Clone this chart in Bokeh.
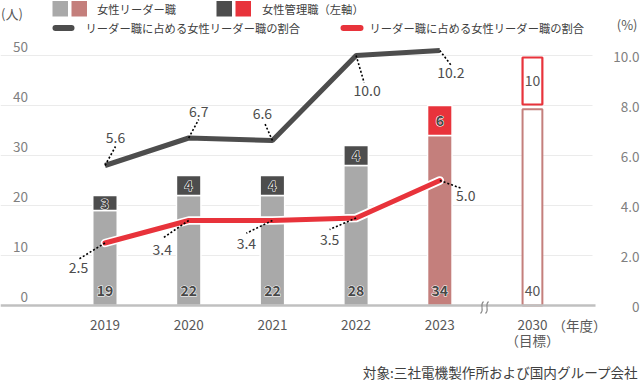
from bokeh.plotting import figure
from bokeh.models import Range1d
from bokeh.core.properties import value
from bokeh.embed import file_html
from bokeh.resources import INLINE

# ---------------- data ----------------
years = ["2019", "2020", "2021", "2022", "2023", "2030"]
women_leaders = [19, 22, 22, 28, 34, 40]      # persons (left axis)
women_managers = [3, 4, 4, 4, 6, 10]          # persons (left axis)
ratio_all = [5.6, 6.7, 6.6, 10.0, 10.2]       # % (right axis)
ratio_women = [2.5, 3.4, 3.4, 3.5, 5.0]       # % (right axis)
left_ticks = [0, 10, 20, 30, 40, 50]
right_ticks = [0, 2, 4, 6, 8, 10]
right_tick_labels = ["0", "2.0", "4.0", "6.0", "8.0", "10.0"]

# ---------------- layout constants ----------------
W, H = 640, 380
X0, DX = 104.5, 83.7      # pixel of first category, pixels per category
Y0, KY = 305.0, 5.0       # pixel of zero, pixels per person
KP = KY * 5               # pixels per percent (10 % == 50 persons)
BREAK_GAP = 1.107         # extra distance of the 2030 target column
FONT = "Noto Sans CJK JP"

def dx(px):
    return px / DX

def xd(px):
    return (px - X0) / DX

def yd(py):
    return (Y0 - py) / KY

def yp(py):
    return (Y0 - py) / KP

n_act = 5
xpos = list(range(n_act)) + [n_act - 1 + BREAK_GAP]
totals = [a + b for a, b in zip(women_leaders, women_managers)]

GRAY, DARK, ROSE, RED = "#a9a9a9", "#4d4d4d", "#c47f7c", "#e8333b"
leader_colors = [GRAY] * 4 + [ROSE]
manager_colors = [DARK] * 4 + [RED]

p = figure(width=W, height=H, title=None,
           x_range=Range1d(xd(0), xd(W)), y_range=Range1d(yd(H), yd(0)),
           output_backend="svg", toolbar_location=None,
           x_axis_type=None, y_axis_type=None, min_border=0,
           outline_line_color=None, background_fill_color="white",
           border_fill_color="white")
p.extra_y_ranges = {"pct": Range1d(yp(H), yp(0))}
p.xgrid.visible = False
p.ygrid.visible = False

# grid lines
gy = left_ticks[1:]
p.segment(x0=[xd(0)] * len(gy), y0=gy, x1=[xd(592)] * len(gy), y1=gy,
          line_color="#ebebeb", line_width=1)

# actual bars
bw = dx(24.5)
p.vbar(x=xpos[:n_act], width=bw, bottom=0, top=women_leaders[:n_act],
       fill_color=leader_colors, line_color="white", line_width=1.5)
p.vbar(x=xpos[:n_act], width=bw, bottom=women_leaders[:n_act], top=totals[:n_act],
       fill_color=manager_colors, line_color="white", line_width=1.5)

# target bars (outlined)
tw = dx(19.8)
p.vbar(x=[xpos[5]], width=tw, bottom=0, top=[women_leaders[5] - 0.75],
       fill_color="white", line_color=ROSE, line_width=2)
p.vbar(x=[xpos[5]], width=tw, bottom=[women_leaders[5] + 0.2], top=[totals[5] - 0.4],
       fill_color="white", line_color=RED, line_width=2.2)

# baseline + break mark
p.segment(x0=[xd(0)], y0=[0], x1=[xd(595)], y1=[0], line_color="#c0c0c0", line_width=2.5)
for bx in (481.5, 486.5):
    p.bezier(x0=[xd(bx - 1.5)], y0=[yd(313)], x1=[xd(bx + 1.5)], y1=[yd(301)],
             cx0=[xd(bx + 3)], cy0=[yd(309)], cx1=[xd(bx - 3)], cy1=[yd(305)],
             line_color="#8a8a8a", line_width=1.1)

# lines (right axis)
xl = xpos[:n_act]
p.line(xl, ratio_all, y_range_name="pct", line_color=DARK, line_width=5)
p.line(xl, ratio_women, y_range_name="pct", line_color="white", line_width=8.5,
       line_cap="round", line_join="round")
p.line(xl, ratio_women, y_range_name="pct", line_color=RED, line_width=5,
       line_cap="round", line_join="round")

# data labels with dotted leaders
all_lab_off = [(10.5, -28), (10, -27), (-10, -27), (11, 35), (11, 22)]
all_lead_off = [(10.5, -19), (10, -18.5), (-8, -18), (8, 27), (11.5, 15)]
wom_lab_off = [(-26.5, 24), (-26.5, 29), (-26, 23), (-26.5, 21.5), (26, 15)]
wom_lead_off = [(-26, 16), (-25, 17), (-26, 12.7), (-26.5, 11.5), (22, 8)]

for vals, lab_off, lead_off in ((ratio_all, all_lab_off, all_lead_off),
                                (ratio_women, wom_lab_off, wom_lead_off)):
    p.segment(x0=xl, y0=vals,
              x1=[x + dx(o[0]) for x, o in zip(xl, lead_off)],
              y1=[v - o[1] / KP for v, o in zip(vals, lead_off)],
              y_range_name="pct", line_color="black", line_width=1.6, line_dash="2 2")
    p.text(x=[x + dx(o[0]) for x, o in zip(xl, lab_off)],
           y=[v - o[1] / KP for v, o in zip(vals, lab_off)],
           text=[f"{v:.1f}" for v in vals], y_range_name="pct",
           text_font=value(FONT), text_font_size="14px", text_color="#4d4d4d",
           text_align="center", text_baseline="middle")

# bar value labels (dark text with a white halo)
lab_x = xpos[:n_act] * 2
lab_y = [yd(290)] * n_act + [a + b / 2 for a, b in zip(women_leaders[:n_act], women_managers[:n_act])]
lab_t = [str(v) for v in women_leaders[:n_act]] + [str(v) for v in women_managers[:n_act]]
base = dict(text_font=value(FONT), text_font_size="14px", text_font_style="bold",
            text_align="center", text_baseline="middle")
p.text(x=lab_x, y=lab_y, text=lab_t, text_color="white", text_outline_color="white", **base)
p.text(x=lab_x, y=lab_y, text=lab_t, text_color="#474747", **base)
plain = dict(text_font=value(FONT), text_font_size="14px", text_color="#555555",
             text_align="center", text_baseline="middle")
p.text(x=[xpos[5], xpos[5]], y=[yd(290), women_leaders[5] + women_managers[5] / 2],
       text=[str(women_leaders[5]), str(women_managers[5])], **plain)

# axis tick labels
p.text(x=[xd(27.5)] * len(left_ticks), y=[t + 8.5 / KY for t in left_ticks],
       text=[str(t) for t in left_ticks], text_font=value(FONT), text_font_size="13.5px",
       text_color="#7f7f7f", text_align="right", text_baseline="middle")
p.text(x=[xd(639)] * len(right_ticks), y=[t - 1.5 / KP for t in right_ticks],
       text=right_tick_labels, y_range_name="pct", text_font=value(FONT),
       text_font_size="13.5px", text_color="#7f7f7f", text_align="right", text_baseline="middle")

# category labels
p.text(x=xpos, y=[yd(324)] * len(xpos), text=years, text_font=value(FONT),
       text_font_size="13.5px", text_color="#595959", text_align="center", text_baseline="middle")
p.text(x=[xpos[5]], y=[yd(339)], text=["（目標）"], text_font=value(FONT),
       text_font_size="13.5px", text_color="#595959", text_align="center", text_baseline="middle")
p.text(x=[xd(579)], y=[yd(324)], text=["（年度）"], text_font=value(FONT),
       text_font_size="13.5px", text_color="#595959", text_align="center", text_baseline="middle")

# unit labels
p.text(x=[xd(0.5)], y=[yd(13)], text=["(人)"], text_font=value(FONT), text_font_size="13px",
       text_color="#595959", text_align="left", text_baseline="middle")
p.text(x=[xd(637)], y=[yd(24)], text=["(%)"], text_font=value(FONT), text_font_size="13px",
       text_color="#595959", text_align="right", text_baseline="middle")

# legend
for (l, r, c) in ((52, 67.5, GRAY), (71, 86.5, ROSE), (216, 231.5, DARK), (235, 250.5, RED)):
    p.quad(left=[xd(l)], right=[xd(r)], top=[yd(0.5)], bottom=[yd(16)], fill_color=c, line_color=None)
for (l, r, c) in ((55, 71, DARK), (343, 360, RED)):
    p.segment(x0=[xd(l)], y0=[yd(27.5)], x1=[xd(r)], y1=[yd(27.5)], line_color=c,
              line_width=6, line_cap="round")
leg = dict(text_font=value(FONT), text_font_size="11.3px", text_color="#404040",
           text_align="left", text_baseline="middle")
p.text(x=[xd(96.5)], y=[yd(8.5)], text=["女性リーダー職"], **leg)
p.text(x=[xd(261.5)], y=[yd(8.5)], text=["女性管理職（左軸）"], **leg)
p.text(x=[xd(85)], y=[yd(27.5)], text=["リーダー職に占める女性リーダー職の割合"], **leg)
p.text(x=[xd(369)], y=[yd(27.5)], text=["リーダー職に占める女性リーダー職の割合"], **leg)

# footnote
p.text(x=[xd(638)], y=[yd(371)], text=["対象:三社電機製作所および国内グループ会社"],
       text_font=value(FONT), text_font_size="13.6px", text_color="#404040",
       text_align="right", text_baseline="middle")

html = file_html(p, INLINE, title="chart")
html = html.replace("<head>", "<head><style>html,body{margin:0;padding:0;overflow:hidden}</style>", 1)
open("out.html", "w").write(html)
